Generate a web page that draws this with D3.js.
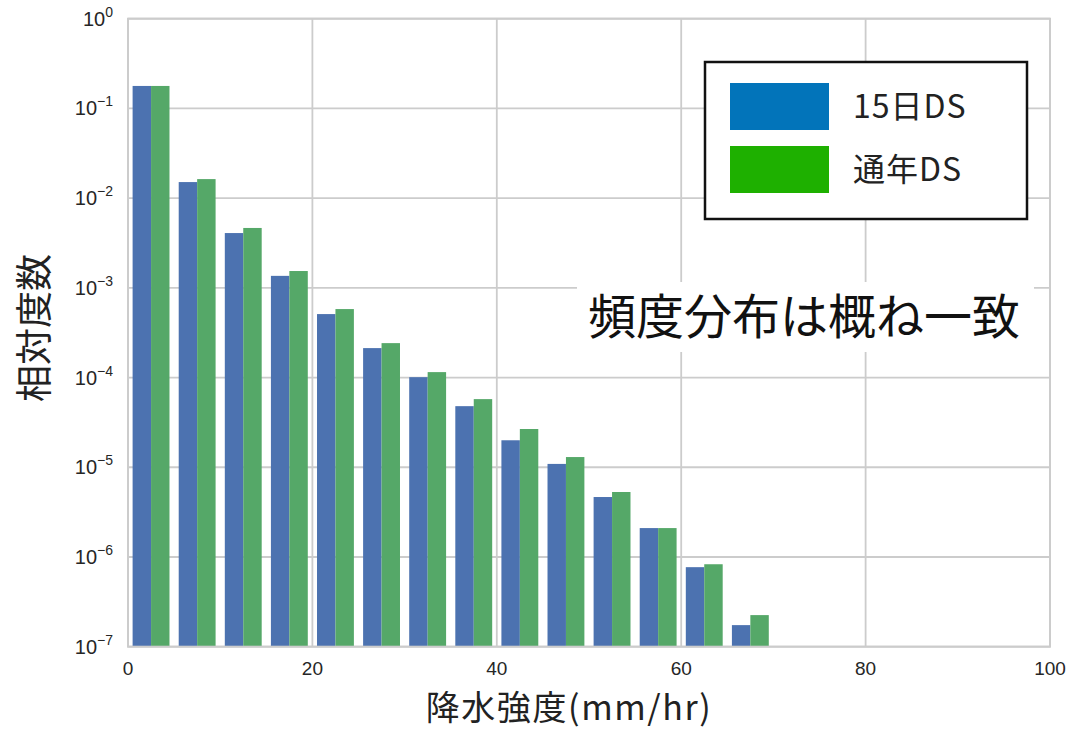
<!DOCTYPE html>
<html>
<head>
<meta charset="utf-8">
<script src="https://cdn.jsdelivr.net/npm/d3@7"></script>
<style>
  html, body { margin: 0; padding: 0; background: #fff; }
  svg { display: block; }
</style>
</head>
<body>
<div id="chart"></div>
<script>
// Histogram bins of rain intensity (mm/hr), 5 mm/hr wide
const binStarts = [0, 5, 10, 15, 20, 25, 30, 35, 40, 45, 50, 55, 60, 65];
const binWidth = 5;

// Relative frequency per bin
const ds15 = [0.178, 0.0151, 0.00408, 0.00136, 5.1e-4, 2.13e-4, 1.01e-4, 4.8e-5, 2.0e-5, 1.09e-5, 4.66e-6, 2.1e-6, 7.7e-7, 1.74e-7];
const dsYear = [0.178, 0.0163, 0.00465, 0.00154, 5.8e-4, 2.42e-4, 1.15e-4, 5.75e-5, 2.67e-5, 1.3e-5, 5.3e-6, 2.1e-6, 8.3e-7, 2.25e-7];

const seriesNames = ["15日DS", "通年DS"];
const xTicks = [0, 20, 40, 60, 80, 100];
const yExponents = [0, -1, -2, -3, -4, -5, -6, -7];

const W = 1066, H = 729;
const margin = { left: 128, right: 16, top: 18.7, bottom: 82.3 };

const svg = d3.select("#chart").append("svg")
  .attr("width", W).attr("height", H);

const x = d3.scaleLinear().domain([0, 100]).range([margin.left, W - margin.right]);
const y = d3.scaleLog().domain([1e-7, 1]).range([H - margin.bottom, margin.top]);

const gridColor = "#cccccc";
const tickFont = "'Liberation Sans', Arial, sans-serif";
const cjkFont = "'Noto Sans CJK JP', 'Noto Sans', sans-serif";

// grid
const grid = svg.append("g");
grid.selectAll("line.vx").data(xTicks).join("line")
  .attr("x1", d => x(d)).attr("x2", d => x(d))
  .attr("y1", y(1)).attr("y2", y(1e-7))
  .attr("stroke", gridColor).attr("stroke-width", 1.8);
grid.selectAll("line.hy").data(yExponents).join("line")
  .attr("y1", d => y(Math.pow(10, d))).attr("y2", d => y(Math.pow(10, d)))
  .attr("x1", x(0)).attr("x2", x(100))
  .attr("stroke", gridColor).attr("stroke-width", 1.8);

// bars: two side-by-side bars per bin, each 40% of bin width, starting 10% into the bin
const barColors = ["#4C72B0", "#55A868"];
const allSeries = [ds15, dsYear];
allSeries.forEach((vals, si) => {
  svg.append("g").selectAll("rect").data(binStarts).join("rect")
    .attr("x", d => x(d + binWidth * 0.1 + si * binWidth * 0.4))
    .attr("width", x(binWidth * 0.4) - x(0))
    .attr("y", (d, i) => y(vals[i]))
    .attr("height", (d, i) => y(1e-7) - y(vals[i]))
    .attr("fill", barColors[si]);
});

// frame
svg.append("rect")
  .attr("x", x(0)).attr("y", y(1))
  .attr("width", x(100) - x(0)).attr("height", y(1e-7) - y(1))
  .attr("fill", "none").attr("stroke", gridColor).attr("stroke-width", 2);

// x tick labels
svg.append("g").selectAll("text").data(xTicks).join("text")
  .attr("x", d => x(d)).attr("y", 675)
  .attr("text-anchor", "middle")
  .attr("font-family", tickFont).attr("font-size", 19)
  .attr("fill", "#262626")
  .text(d => d);

// y tick labels as 10^n, right edge of the superscript aligned
const yl = svg.append("g").selectAll("text").data(yExponents).join("text")
  .attr("x", 113).attr("y", d => y(Math.pow(10, d)) + 7)
  .attr("text-anchor", "end")
  .attr("font-family", tickFont).attr("font-size", 20)
  .attr("fill", "#262626");
yl.append("tspan").text("10");
yl.append("tspan").attr("dy", -9).attr("font-size", 14)
  .text(d => d === 0 ? "0" : "\u2212" + Math.abs(d));

// axis titles
svg.append("text")
  .attr("x", 569).attr("y", 719.5)
  .attr("text-anchor", "middle")
  .attr("font-family", cjkFont).attr("font-size", 34)
  .attr("letter-spacing", 1.6)
  .attr("fill", "#222")
  .text("降水強度(mm/hr)");

svg.append("text")
  .attr("transform", "translate(48,328) rotate(-90)")
  .attr("text-anchor", "middle")
  .attr("font-family", cjkFont).attr("font-size", 37)
  .attr("fill", "#222")
  .text("相対度数");

// annotation with white backing
svg.append("rect")
  .attr("x", 577).attr("y", 282).attr("width", 457).attr("height", 70)
  .attr("fill", "#fff");
svg.append("text")
  .attr("x", 804).attr("y", 334)
  .attr("text-anchor", "middle")
  .attr("font-family", cjkFont).attr("font-size", 48)
  .attr("fill", "#111")
  .text("頻度分布は概ね一致");

// legend
const legendColors = ["#0274BA", "#1EB000"];
const lg = svg.append("g");
lg.append("rect")
  .attr("x", 705).attr("y", 62).attr("width", 322).attr("height", 157)
  .attr("fill", "#fff").attr("stroke", "#111").attr("stroke-width", 2.5);
seriesNames.forEach((name, i) => {
  lg.append("rect")
    .attr("x", 730).attr("y", 83 + i * 63).attr("width", 99).attr("height", 47)
    .attr("fill", legendColors[i]);
  lg.append("text")
    .attr("x", 853).attr("y", 118 + i * 63)
    .attr("font-family", cjkFont).attr("font-size", 32)
    .attr("letter-spacing", 1)
    .attr("fill", "#222")
    .text(name);
});
</script>
</body>
</html>
